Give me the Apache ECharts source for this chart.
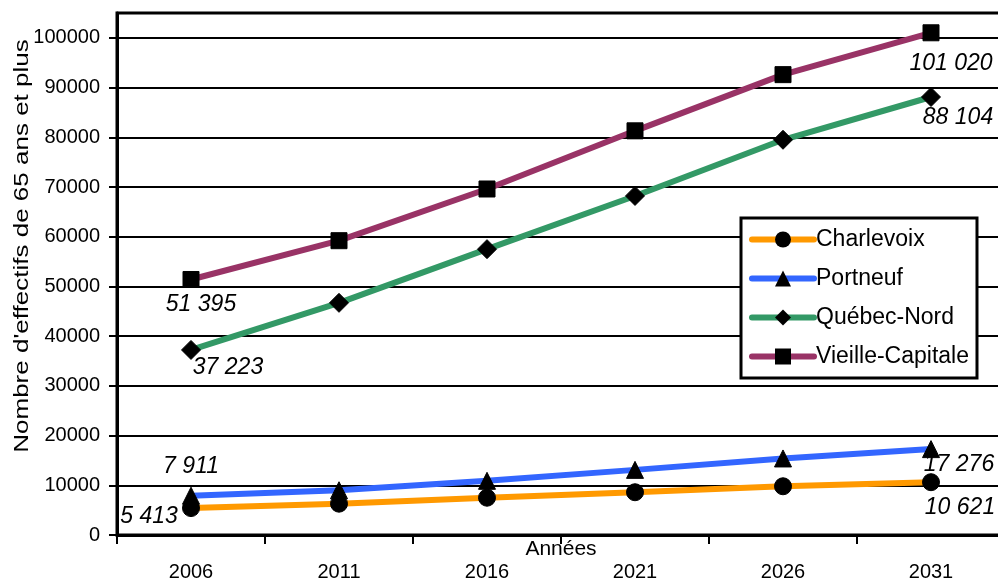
<!DOCTYPE html>
<html><head><meta charset="utf-8">
<script src="https://cdn.jsdelivr.net/npm/echarts@6/dist/echarts.min.js"></script>
<style>html,body{margin:0;padding:0;background:#fff}#c{width:998px;height:582px}</style>
</head><body><div id="c"></div>
<script>
var years = ['2006','2011','2016','2021','2026','2031'];
var charlevoix = [5413, 6300, 7500, 8600, 9800, 10621];
var portneuf = [7911, 9000, 10900, 13100, 15400, 17276];
var quebecNord = [37223, 46700, 57500, 68200, 79500, 88104];
var vieilleCapitale = [51395, 59200, 69600, 81300, 92600, 101020];
var yTicks = [0, 10000, 20000, 30000, 40000, 50000, 60000, 70000, 80000, 90000, 100000];

var SANS = '"Liberation Sans",Arial,sans-serif';

function fmt(v){ return String(v).replace(/\B(?=(\d{3})+(?!\d))/g, ' '); }

function build(values, firstOff, lastOff){
  return values.map(function(v, i){
    var d = {value: v};
    if (i === 0 || i === values.length - 1){
      d.label = {show: true, position: 'inside', offset: i === 0 ? firstOff : lastOff};
    }
    return d;
  });
}

function mkSeries(name, color, symbol, size, values, firstOff, lastOff){
  return {
    name: name, type: 'line', data: build(values, firstOff, lastOff),
    symbol: symbol, symbolSize: size, showAllSymbol: true,
    lineStyle: {color: color, width: 6},
    itemStyle: {color: '#000', borderColor: '#000'},
    label: {show: false, formatter: function(p){ return fmt(p.value); },
      fontFamily: SANS, fontStyle: 'italic', fontSize: 23, color: '#000'},
    emphasis: {disabled: true},
    animation: false
  };
}

var chart = echarts.init(document.getElementById('c'), null, {renderer: 'canvas'});
chart.setOption({
  animation: false,
  color: ['#FF9900', '#3366FF', '#339966', '#993366'],
  grid: {left: 117, right: -7, top: 13, bottom: 47, show: true, borderColor: '#000', borderWidth: 3, outerBoundsMode: 'none'},
  legend: {
    orient: 'vertical', left: 741, top: 218,
    data: ['Charlevoix', 'Portneuf', 'Québec-Nord', 'Vieille-Capitale'],
    backgroundColor: '#fff', borderColor: '#000', borderWidth: 3, borderRadius: 0,
    padding: [10, 8, 10, 8], itemGap: 16, itemWidth: 62, itemHeight: 20,
    lineStyle: {width: 6, cap: 'round'},
    textStyle: {fontFamily: SANS, fontSize: 23, color: '#000', padding: [0, 0, 0, -3]}
  },
  graphic: [{
    type: 'text', x: 22, y: 246, rotation: Math.PI / 2, scaleX: 1.3,
    style: {text: "Nombre d'effectifs de 65 ans et plus", fontFamily: SANS, fontSize: 20,
      fill: '#000', align: 'center', verticalAlign: 'middle'}
  }],
  xAxis: {
    type: 'category', data: years, boundaryGap: true,
    name: 'Années', nameLocation: 'middle', nameGap: 4, nameMoveOverlap: false,
    nameTextStyle: {fontFamily: SANS, fontSize: 21, color: '#000'},
    axisLine: {lineStyle: {color: '#000', width: 3}},
    axisTick: {show: true, length: 9, lineStyle: {color: '#000', width: 2}, alignWithLabel: false},
    axisLabel: {fontFamily: SANS, fontSize: 20, color: '#000', margin: 27},
    splitLine: {show: false}
  },
  yAxis: {
    type: 'value', min: 0, max: 105000, interval: 10000,
    axisLine: {show: true, lineStyle: {color: '#000', width: 3}},
    axisTick: {show: true, length: 8, lineStyle: {color: '#000', width: 2}},
    axisLabel: {fontFamily: SANS, fontSize: 20, color: '#000', margin: 17, showMaxLabel: false,
      formatter: function(v){ return yTicks.indexOf(v) >= 0 ? String(v) : ''; }},
    splitLine: {show: true, lineStyle: {color: '#000', width: 2}}
  },
  series: [
    mkSeries('Charlevoix', '#FF9900', 'circle', 17, charlevoix, [-42, 9], [29, 25]),
    mkSeries('Portneuf', '#3366FF', 'triangle', 17, portneuf, [0, -29], [28, 15]),
    mkSeries('Québec-Nord', '#339966', 'diamond', 19, quebecNord, [37, 18], [27, 21]),
    mkSeries('Vieille-Capitale', '#993366', 'rect', 16, vieilleCapitale, [10, 25], [20, 31])
  ]
});
</script></body></html>
